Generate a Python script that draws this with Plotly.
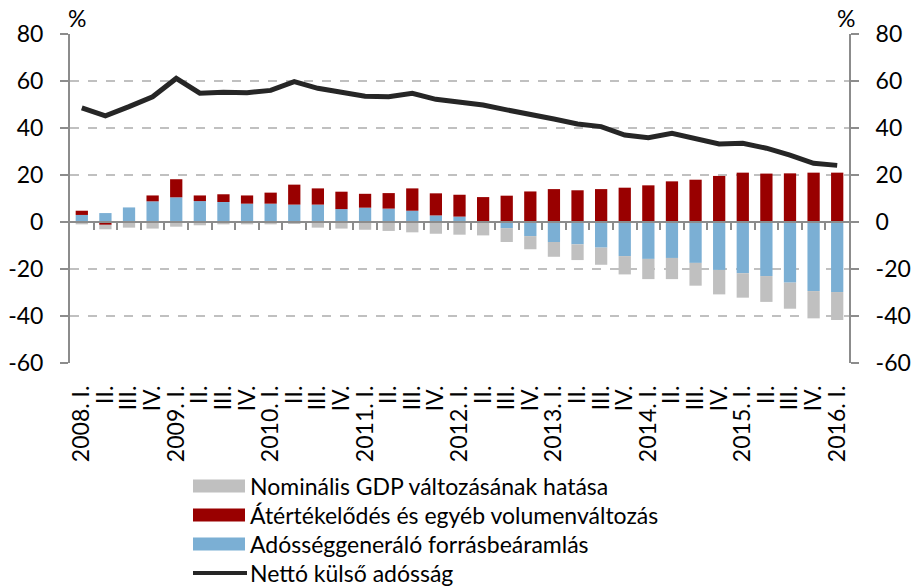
import plotly.graph_objects as go

quarters = ["2008. I.", "II.", "III.", "IV.",
            "2009. I.", "II.", "III.", "IV.",
            "2010. I.", "II.", "III.", "IV.",
            "2011. I.", "II.", "III.", "IV.",
            "2012. I.", "II.", "III.", "IV.",
            "2013. I.", "II.", "III.", "IV.",
            "2014. I.", "II.", "III.", "IV.",
            "2015. I.", "II.", "III.", "IV.",
            "2016. I."]

debt_inflow = [3.0, 3.8, 6.2, 8.8, 10.5, 8.9, 8.5, 7.8, 7.8, 7.4, 7.4, 5.5,
               6.1, 5.7, 4.8, 2.8, 2.3, 0.0, -2.6, -6.0, -8.5, -9.5, -10.9, -14.5,
               -15.7, -15.3, -17.4, -20.4, -21.8, -23.0, -25.8, -29.4, -29.8]
revaluation = [1.8, -1.2, 0.0, 2.5, 7.7, 2.4, 3.3, 3.5, 4.7, 8.5, 6.9, 7.4,
               5.9, 6.6, 9.5, 9.4, 9.3, 10.6, 11.2, 13.0, 14.0, 13.5, 14.0, 14.6,
               15.6, 17.3, 18.0, 19.6, 21.0, 20.6, 20.7, 21.0, 21.0]
gdp_effect = [-1.0, -1.9, -2.4, -2.8, -2.0, -1.4, -1.0, -1.0, -1.0, -0.7, -2.4, -2.8,
              -3.3, -3.8, -4.4, -5.0, -5.4, -5.7, -5.9, -5.6, -6.3, -6.7, -7.3, -7.8,
              -8.6, -9.0, -9.7, -10.4, -10.4, -11.0, -11.1, -11.6, -11.9]
net_debt = [48.6, 45.2, 49.1, 53.3, 61.1, 54.8, 55.2, 55.0, 56.0, 59.7, 56.9, 55.0,
            53.5, 53.3, 54.8, 52.2, 51.2, 49.8, 47.7, 46.0, 43.8, 41.7, 40.6, 37.0,
            35.9, 37.7, 35.6, 33.2, 33.5, 31.4, 28.5, 25.0, 24.1]

names = ["Nominális GDP változásának hatása",
         "Átértékelődés és egyéb volumenváltozás",
         "Adósséggeneráló forrásbeáramlás",
         "Nettó külső adósság"]
colors = ["#c0c0c0", "#990000", "#7bafd4", "#262626"]

y_min, y_max, y_step = -60, 80, 20
y_ticks = list(range(y_min, y_max + 1, y_step))
y_ticktext = [str(v) for v in y_ticks]
idx = list(range(len(quarters)))

FONT = "Lato"
FS = 23
W, H = 911, 587
ML, MR, MT, MB = 70, 62, 34, 224
PW, PH = W - ML - MR, H - MT - MB

fig = go.Figure()
for vals, col, nm in [(debt_inflow, colors[2], names[2]),
                      (revaluation, colors[1], names[1]),
                      (gdp_effect, colors[0], names[0])]:
    fig.add_trace(go.Bar(x=idx, y=vals, marker=dict(color=col, line=dict(width=0)),
                         name=nm, showlegend=False))
fig.add_trace(go.Scatter(x=idx, y=net_debt, mode="lines", name=names[3],
                         line=dict(color=colors[3], width=5), xaxis="x2", yaxis="y2",
                         showlegend=False))

axis_gray = "#8c8c8c"
zero_pos = (0 - y_min) / (y_max - y_min)

yax_common = dict(range=[y_min, y_max], tickmode="array", tickvals=y_ticks,
                  ticktext=y_ticktext, zeroline=False, showline=True,
                  linecolor=axis_gray, linewidth=2, ticks="outside", ticklen=8,
                  tickwidth=2, tickcolor=axis_gray, ticklabelstandoff=12,
                  tickfont=dict(family=FONT, size=FS))

fig.update_layout(
    width=W, height=H,
    margin=dict(l=ML, r=MR, t=MT, b=MB, autoexpand=False),
    paper_bgcolor="white", plot_bgcolor="white",
    barmode="relative", bargap=0.48,
    font=dict(family=FONT, size=FS, color="black"),
    xaxis=dict(range=[-0.5, len(quarters) - 0.5], tickmode="array", tickvals=idx,
               ticktext=quarters, tickangle=-90, showgrid=False, zeroline=False,
               showline=False, ticks="", ticklabelstandoff=17, automargin=False,
               tickfont=dict(family=FONT, size=FS)),
    xaxis2=dict(overlaying="x", anchor="free", position=zero_pos,
                range=[-0.5, len(quarters) - 0.5], tickmode="array",
                tickvals=[i + 0.5 for i in idx[:-1]], showticklabels=False,
                ticks="outside", ticklen=7, tickwidth=2, tickcolor=axis_gray,
                showline=True, linecolor=axis_gray, linewidth=2,
                showgrid=False, zeroline=False),
    yaxis=dict(showgrid=True, gridcolor="#c0c0c0", griddash="dash", gridwidth=1.5,
               automargin=False, **yax_common),
    yaxis2=dict(overlaying="y", side="right", anchor="x", showgrid=False,
                automargin=False, **yax_common),
)

# percent labels
fig.add_annotation(text="%", xref="paper", yref="paper", x=0.0, y=1.0, xanchor="center",
                   yanchor="bottom", showarrow=False, xshift=7,
                   font=dict(family=FONT, size=FS))
fig.add_annotation(text="%", xref="paper", yref="paper", x=1.0, y=1.0, xanchor="center",
                   yanchor="bottom", showarrow=False, xshift=-3,
                   font=dict(family=FONT, size=FS))

# manual legend
def px_x(px):
    return (px - ML) / PW

def px_y(py):
    return (H - MB - py) / PH

legend_rows = [(names[0], colors[0], 486, "rect"),
               (names[1], colors[1], 515, "rect"),
               (names[2], colors[2], 544, "rect"),
               (names[3], colors[3], 573, "line")]
for nm, col, cy, kind in legend_rows:
    if kind == "rect":
        fig.add_shape(type="rect", xref="paper", yref="paper",
                      x0=px_x(193), x1=px_x(245), y0=px_y(cy + 6.5), y1=px_y(cy - 6.5),
                      fillcolor=col, line=dict(width=0))
    else:
        fig.add_shape(type="line", xref="paper", yref="paper",
                      x0=px_x(193), x1=px_x(247), y0=px_y(cy), y1=px_y(cy),
                      line=dict(color=col, width=4))
    fig.add_annotation(text=nm, xref="paper", yref="paper", x=px_x(248), y=px_y(cy),
                       xanchor="left", yanchor="middle", showarrow=False,
                       font=dict(family=FONT, size=FS))

fig.write_html("out.html", post_script="document.body.style.margin='0';",
               config={"displayModeBar": False})
